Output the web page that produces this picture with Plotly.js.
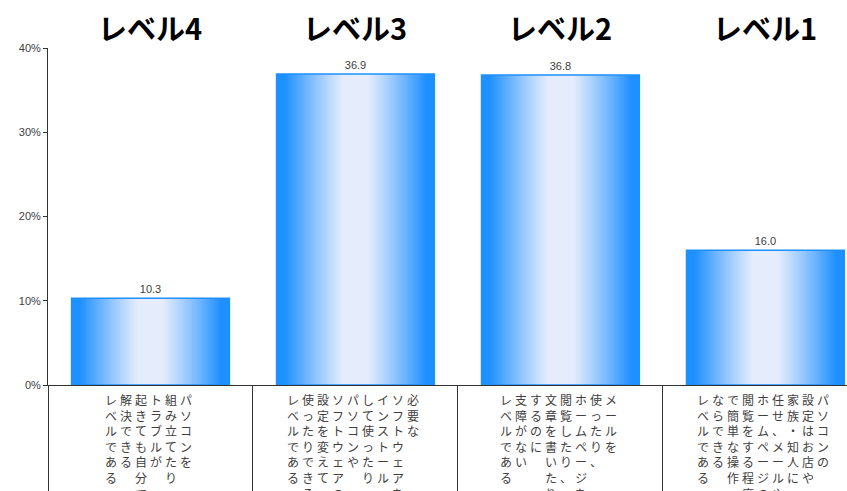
<!DOCTYPE html>
<html>
<head>
<meta charset="utf-8">
<script src="https://cdn.plot.ly/plotly-3.0.1.min.js"></script>
<style>html,body{margin:0;padding:0;background:#fff;}#chart{width:847px;height:491px;}</style>
</head>
<body>
<div id="chart"></div>
<script>
// ---- data ----
const levels = ['レベル4', 'レベル3', 'レベル2', 'レベル1'];
const values = [10.3, 36.9, 36.8, 16.0];
const yTickVals = [0, 10, 20, 30, 40];
const yTickText = ['0%', '10%', '20%', '30%', '40%'];
// description text, one string per vertical column, right-to-left order
const desc4 = ['パソコンを', '組み立てたり、', 'トラブルが', '起きても自分で', '解決できる', 'レベルである'];
const desc3 = ['必要な', 'ソフトウェアを', 'インストール', 'して使ったり、', 'パソコンや', 'ソフトウェアの', '設定を変えて', '使ったりできる', 'レベルである'];
const desc2 = ['メールを', '使ったり、', 'ホームページを', '閲覧したり、', '文章を書いたり', 'するのに', '支障がない', 'レベルである'];
const desc1 = ['パソコンの', '設定はお店や', '家族・知人に', '任せ、メールや', 'ホームページの', '閲覧をする程度', 'で簡単な操作', 'ならできる', 'レベルである'];
const descriptions = [desc4, desc3, desc2, desc1];

// ---- styling ----
const BAR_W = 0.77;
const EDGE = [30, 144, 255];
const LIGHT = [229, 237, 252];
function gradColor(d) {
  let t = (d - 0.15) / 0.75;
  t = Math.max(0, Math.min(1, t));
  t = Math.pow(t, 1.1);
  const c = EDGE.map((e, i) => Math.round(LIGHT[i] + (e - LIGHT[i]) * t));
  return 'rgb(' + c.join(',') + ')';
}

const traces = [];
const N = 36;
for (let k = 0; k < N; k++) {
  const d = 1 - k / N;
  const mid = 1 - (k + 0.5) / N;
  traces.push({
    type: 'bar', x: levels, y: values,
    width: BAR_W * d,
    marker: { color: gradColor(mid), line: { width: 0 } },
    hoverinfo: 'skip', showlegend: false
  });
}
// outline + labels
traces.push({
  type: 'bar', x: levels, y: values, width: BAR_W,
  marker: { color: 'rgba(0,0,0,0)', line: { color: 'rgb(30,144,255)', width: 1.5 } },
  texttemplate: '%{y:.1f}', textposition: 'outside', cliponaxis: false,
  textfont: { family: 'Liberation Sans, Arial, sans-serif', size: 11, color: '#404040' },
  showlegend: false, hoverinfo: 'skip'
});

const annotations = [];
levels.forEach((lv, i) => {
  annotations.push({
    xref: 'x', yref: 'paper', x: lv, y: 1.0, yshift: 21,
    xanchor: 'center', yanchor: 'middle', showarrow: false,
    text: '<b>' + lv + '</b>',
    font: { family: 'Noto Sans CJK JP', size: 29, color: '#000' }
  });
  const cols = descriptions[i];
  const n = cols.length;
  cols.forEach((col, j) => {
    annotations.push({
      xref: 'x', yref: 'y', x: lv, y: 0,
      xshift: ((n - 1) / 2 - j) * 15 - 2, yshift: -4,
      xanchor: 'center', yanchor: 'top', showarrow: false,
      text: Array.from(col).join('<br>'),
      font: { family: 'Noto Sans CJK JP', size: 12, color: '#404040' }
    });
  });
});

const layout = {
  width: 847, height: 491,
  margin: { l: 48, r: 0, t: 48, b: 106, pad: 0 },
  paper_bgcolor: '#fff', plot_bgcolor: '#fff',
  barmode: 'overlay',
  font: { family: 'Liberation Sans, Arial, sans-serif', size: 11, color: '#404040' },
  xaxis: {
    type: 'category', categoryarray: levels, range: [-0.5, 3.398],
    showline: true, linecolor: '#333', linewidth: 1,
    ticks: 'outside', tickson: 'boundaries', ticklen: 110, tickcolor: '#333', tickwidth: 1,
    showticklabels: false, showgrid: false, zeroline: false, fixedrange: true
  },
  yaxis: {
    range: [0, 40], tickmode: 'array', tickvals: yTickVals, ticktext: yTickText,
    showline: true, linecolor: '#333', linewidth: 1,
    ticks: 'outside', ticklen: 4, tickcolor: '#333',
    showgrid: false, zeroline: false,
    tickfont: { family: 'Liberation Sans, Arial, sans-serif', size: 11, color: '#404040' }
  },
  annotations: annotations
};

Plotly.newPlot('chart', traces, layout, { displayModeBar: false, staticPlot: true });
</script>
</body>
</html>
